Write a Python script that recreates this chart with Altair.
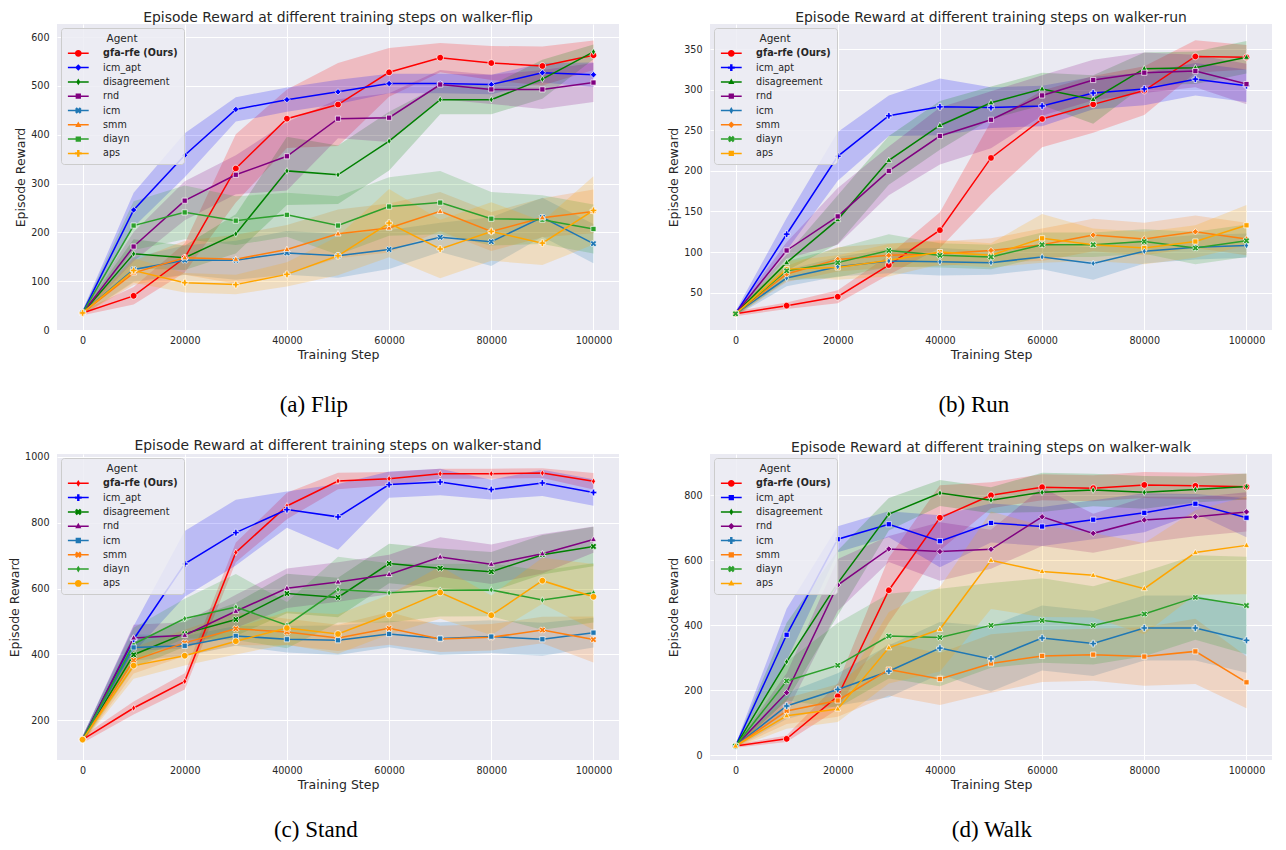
import math
import altair as alt
import pandas as pd

STEPS = [0, 10000, 20000, 30000, 40000, 50000, 60000, 70000, 80000, 90000, 100000]
AGENTS = ["gfa-rfe (Ours)", "icm_apt", "disagreement", "rnd", "icm", "smm", "diayn", "aps"]
COLORS = ["#ff0000", "#0000ff", "#008000", "#800080", "#1f77b4", "#ff7f0e", "#2ca02c", "#ffa500"]
X_TICKS = [0, 20000, 40000, 60000, 80000, 100000]

# ---------------- walker-flip ----------------
FLIP_MEAN = {
    "gfa-rfe (Ours)": [35, 70, 148, 331, 433, 462, 528, 558, 547, 541, 563],
    "icm_apt":        [35, 246, 358, 452, 472, 488, 505, 505, 503, 527, 523],
    "disagreement":   [35, 156, 148, 197, 326, 318, 387, 472, 472, 514, 570],
    "rnd":            [35, 171, 265, 318, 356, 433, 435, 503, 493, 493, 507],
    "icm":            [35, 124, 143, 143, 158, 152, 165, 190, 181, 231, 177],
    "smm":            [35, 117, 148, 145, 165, 197, 209, 243, 202, 230, 243],
    "diayn":          [35, 214, 241, 224, 236, 214, 253, 261, 228, 226, 207],
    "aps":            [35, 122, 97, 93, 114, 152, 219, 166, 202, 178, 245],
}
FLIP_HW = {
    "gfa-rfe (Ours)": [5, 18, 30, 70, 60, 85, 50, 30, 35, 40, 30],
    "icm_apt":        [5, 35, 45, 25, 25, 25, 20, 20, 20, 20, 25],
    "disagreement":   [5, 30, 25, 40, 70, 60, 60, 30, 30, 40, 15],
    "rnd":            [5, 30, 40, 40, 70, 40, 50, 30, 30, 40, 40],
    "icm":            [5, 25, 30, 40, 45, 45, 40, 30, 50, 40, 40],
    "smm":            [5, 25, 35, 50, 50, 50, 50, 40, 40, 40, 45],
    "diayn":          [5, 50, 55, 50, 45, 60, 60, 65, 55, 50, 50],
    "aps":            [5, 25, 20, 20, 25, 40, 70, 60, 60, 45, 70],
}
FLIP_MARKERS = {"gfa-rfe (Ours)": "circle", "icm_apt": "diamond", "disagreement": "thin_diamond",
                "rnd": "square", "icm": "x", "smm": "triangle", "diayn": "square", "aps": "plus"}

# ---------------- walker-run ----------------
RUN_MEAN = {
    "gfa-rfe (Ours)": [24, 34, 45, 84, 127, 216, 264, 282, 299, 341, 340],
    "icm_apt":        [24, 122, 218, 268, 279, 278, 280, 296, 301, 313, 305],
    "disagreement":   [24, 87, 140, 213, 256, 284, 301, 288, 326, 327, 340],
    "rnd":            [24, 102, 144, 200, 243, 263, 293, 312, 321, 323, 307],
    "icm":            [24, 68, 82, 89, 88, 87, 94, 86, 101, 106, 108],
    "smm":            [24, 73, 91, 96, 98, 102, 109, 121, 116, 125, 116],
    "diayn":          [24, 77, 87, 102, 96, 94, 109, 109, 113, 105, 114],
    "aps":            [24, 79, 81, 90, 100, 96, 117, 109, 105, 113, 133],
}
RUN_HW = {
    "gfa-rfe (Ours)": [3, 4, 8, 12, 22, 45, 35, 35, 30, 20, 15],
    "icm_apt":        [3, 20, 30, 25, 35, 25, 25, 20, 20, 20, 20],
    "disagreement":   [3, 10, 30, 30, 30, 20, 20, 30, 20, 20, 20],
    "rnd":            [3, 10, 35, 30, 35, 35, 25, 25, 25, 20, 25],
    "icm":            [3, 10, 12, 15, 17, 15, 15, 20, 15, 15, 15],
    "smm":            [3, 10, 15, 15, 15, 15, 20, 20, 20, 20, 20],
    "diayn":          [3, 12, 18, 20, 15, 15, 15, 15, 15, 20, 20],
    "aps":            [3, 10, 15, 20, 15, 15, 30, 20, 20, 20, 25],
}
RUN_MARKERS = {"gfa-rfe (Ours)": "circle", "icm_apt": "plus", "disagreement": "triangle",
               "rnd": "square", "icm": "thin_diamond", "smm": "diamond", "diayn": "x", "aps": "square"}

# ---------------- walker-stand ----------------
STAND_MEAN = {
    "gfa-rfe (Ours)": [141, 237, 318, 710, 851, 927, 934, 949, 949, 951, 926],
    "icm_apt":        [141, 446, 675, 770, 840, 818, 916, 924, 901, 921, 892],
    "disagreement":   [141, 399, 463, 506, 585, 573, 676, 662, 651, 703, 728],
    "rnd":            [141, 450, 458, 531, 601, 620, 643, 696, 674, 706, 749],
    "icm":            [141, 421, 426, 456, 446, 443, 462, 448, 454, 446, 466],
    "smm":            [141, 382, 435, 478, 468, 450, 479, 447, 452, 474, 445],
    "diayn":          [141, 431, 509, 544, 489, 597, 587, 595, 596, 565, 587],
    "aps":            [141, 366, 396, 440, 480, 462, 521, 588, 519, 624, 575],
}
STAND_HW = {
    "gfa-rfe (Ours)": [10, 20, 25, 30, 40, 25, 20, 15, 15, 15, 25],
    "icm_apt":        [10, 40, 100, 100, 55, 100, 40, 40, 30, 40, 40],
    "disagreement":   [10, 40, 40, 50, 60, 60, 60, 60, 60, 60, 60],
    "rnd":            [10, 40, 40, 50, 60, 60, 60, 60, 60, 60, 40],
    "icm":            [10, 40, 30, 30, 40, 45, 40, 50, 50, 50, 45],
    "smm":            [10, 40, 40, 50, 40, 40, 50, 40, 40, 40, 70],
    "diayn":          [10, 50, 60, 100, 70, 100, 90, 80, 80, 90, 90],
    "aps":            [10, 40, 30, 40, 50, 60, 60, 80, 60, 70, 100],
}
STAND_MARKERS = {"gfa-rfe (Ours)": "thin_diamond", "icm_apt": "plus", "disagreement": "x",
                 "rnd": "triangle", "icm": "square", "smm": "x", "diayn": "thin_diamond", "aps": "circle"}

# ---------------- walker-walk ----------------
WALK_MEAN = {
    "gfa-rfe (Ours)": [29, 51, 182, 508, 731, 800, 825, 822, 832, 829, 826],
    "icm_apt":        [29, 371, 665, 711, 659, 715, 704, 725, 746, 774, 731],
    "disagreement":   [29, 288, 530, 742, 807, 785, 809, 816, 809, 818, 827],
    "rnd":            [29, 193, 524, 635, 627, 634, 734, 683, 724, 734, 749],
    "icm":            [29, 152, 203, 259, 330, 297, 361, 344, 392, 392, 354],
    "smm":            [29, 137, 169, 264, 235, 283, 306, 310, 304, 320, 225],
    "diayn":          [29, 229, 277, 367, 363, 400, 415, 400, 435, 486, 461],
    "aps":            [29, 122, 143, 331, 388, 600, 566, 554, 513, 624, 646],
}
WALK_HW = {
    "gfa-rfe (Ours)": [5, 10, 40, 100, 100, 40, 40, 40, 40, 40, 40],
    "icm_apt":        [5, 80, 40, 40, 80, 60, 60, 60, 60, 30, 60],
    "disagreement":   [5, 120, 100, 50, 40, 40, 60, 50, 50, 40, 40],
    "rnd":            [5, 60, 80, 40, 90, 60, 90, 60, 70, 60, 60],
    "icm":            [5, 40, 50, 80, 80, 100, 100, 100, 100, 100, 100],
    "smm":            [5, 40, 50, 80, 80, 90, 80, 80, 90, 100, 80],
    "diayn":          [5, 60, 130, 130, 150, 130, 130, 120, 130, 130, 150],
    "aps":            [5, 40, 40, 110, 130, 150, 140, 130, 140, 130, 150],
}
WALK_MARKERS = {"gfa-rfe (Ours)": "circle", "icm_apt": "square", "disagreement": "thin_diamond",
                "rnd": "diamond", "icm": "plus", "smm": "square", "diayn": "x", "aps": "triangle"}


# ---------- marker glyphs (shape design only) ----------
def poly(pts):
    return "M" + "L".join(f"{x:.3f},{y:.3f}" for x, y in pts) + "Z"


def rot(pts, ang):
    c, s = math.cos(ang), math.sin(ang)
    return [(x * c - y * s, x * s + y * c) for x, y in pts]


def marker_path(kind, r):
    if kind == "circle":
        return f"M{-r:.3f},0A{r:.3f},{r:.3f} 0 1,1 {r:.3f},0A{r:.3f},{r:.3f} 0 1,1 {-r:.3f},0Z"
    if kind == "square":
        s = r * 0.78
        return poly([(-s, -s), (s, -s), (s, s), (-s, s)])
    if kind == "diamond":
        s = r * 0.95
        return poly([(0, -s), (s, 0), (0, s), (-s, 0)])
    if kind == "thin_diamond":
        return poly([(0, -r), (0.6 * r, 0), (0, r), (-0.6 * r, 0)])
    if kind == "triangle":
        return poly([(0, -r), (0.9 * r, 0.62 * r), (-0.9 * r, 0.62 * r)])
    w = r * 0.36
    plus = [(-w, -r), (w, -r), (w, -w), (r, -w), (r, w), (w, w), (w, r), (-w, r), (-w, w), (-r, w), (-r, -w), (-w, -w)]
    if kind == "plus":
        return poly(plus)
    return poly(rot(plus, math.pi / 4))


def legend_path(kind):
    # legend glyph: short line with the series marker on it (unit = 4px at symbolSize 64)
    t = 0.19
    half = 2.6
    line = poly([(-half, -t), (half, -t), (half, t), (-half, t)])
    return line + marker_path(kind, 0.85)


def panel_df(means, hws):
    rows = []
    for i, a in enumerate(AGENTS):
        for s, m, h in zip(STEPS, means[a], hws[a]):
            rows.append({"agent": a, "order": i, "step": s, "mean": m, "lo": m - h, "hi": m + h})
    return pd.DataFrame(rows)


def make_legend():
    return alt.Legend(
        title="Agent", orient="top-left", offset=4,
        titleAnchor="middle", titleFontWeight="normal", titleFontSize=10.5, titleColor="#262626",
        titlePadding=4,
        labelFontSize=9.6, labelColor="#262626", labelOffset=20,
        labelFontWeight={"expr": "datum.value === 'gfa-rfe (Ours)' ? 'bold' : 'normal'"},
        symbolSize=64, symbolOffset=6.5, symbolStrokeWidth=0, symbolOpacity=1, rowPadding=3.3,
        padding=6, fillColor="rgba(236,236,243,0.85)", strokeColor="#cccccc", cornerRadius=3,
    )


def make_panel(task, means, hws, markers, ydom, yvals, caption, cap_offset, cap_dx):
    df = panel_df(means, hws)
    xs = alt.Scale(domain=[-5000, 105000], nice=False, zero=False)
    ys = alt.Scale(domain=ydom, nice=False, zero=False)
    xax = alt.Axis(values=X_TICKS, format="d", title="Training Step")
    yax = alt.Axis(values=yvals, format="d", title="Episode Reward")
    legend = make_legend()
    color = alt.Color("agent:N", scale=alt.Scale(domain=AGENTS, range=COLORS), legend=legend)
    X = alt.X("step:Q", scale=xs, axis=xax)
    Y = alt.Y("mean:Q", scale=ys, axis=yax)
    base = alt.Chart(df)
    band = base.mark_area(opacity=0.2, clip=True).encode(
        x=X, y=alt.Y("lo:Q", scale=ys, axis=yax, stack=None), y2="hi:Q", color=color,
    )
    line = base.mark_line(strokeWidth=1.5, clip=True).encode(x=X, y=Y, color=color)
    layers = [band, line]
    kinds = []
    for a in AGENTS:
        if markers[a] not in kinds:
            kinds.append(markers[a])
    for k in kinds:
        members = [a for a in AGENTS if markers[a] == k]
        layers.append(
            base.transform_filter(alt.FieldOneOfPredicate(field="agent", oneOf=members))
            .mark_point(filled=True, opacity=1, stroke="white", strokeWidth=0.7, size=44, clip=True,
                        shape=marker_path(k, 1.0))
            .encode(x=X, y=Y, color=color)
        )
    # legend glyph carrier (draws nothing: empty after filter)
    layers.append(
        base.transform_filter("datum.step < 0")
        .mark_point(filled=True, opacity=1, strokeWidth=0, size=64)
        .encode(x=X, y=Y, color=color,
                shape=alt.Shape("agent:N", scale=alt.Scale(domain=AGENTS, range=[legend_path(markers[a]) for a in AGENTS]),
                                legend=legend))
    )
    layer = alt.layer(*layers).properties(
        width=562, height=306,
        title=alt.Title(f"Episode Reward at different training steps on {task}", fontSize=13.9,
                        fontWeight="normal", color="#262626", anchor="middle", frame="group", offset=-1),
    )
    return alt.vconcat(layer, title=alt.Title(caption, orient="bottom", font="Liberation Serif", fontSize=23,
                                               fontWeight="normal", color="black", anchor="middle",
                                               offset=cap_offset, dx=cap_dx)
                       ).resolve_scale(color="independent", shape="independent").resolve_legend(
        color="independent", shape="independent")


pa = make_panel("walker-flip", FLIP_MEAN, FLIP_HW, FLIP_MARKERS, [0, 627], [0, 100, 200, 300, 400, 500, 600],
                "(a) Flip", 33, -3)
pb = make_panel("walker-run", RUN_MEAN, RUN_HW, RUN_MARKERS, [4, 381], [50, 100, 150, 200, 250, 300, 350],
                "(b) Run", 33, 4)
pc = make_panel("walker-stand", STAND_MEAN, STAND_HW, STAND_MARKERS, [79, 1009], [200, 400, 600, 800, 1000],
                "(c) Stand", 28, 2)
pd_ = make_panel("walker-walk", WALK_MEAN, WALK_HW, WALK_MARKERS, [-14, 927], [0, 200, 400, 600, 800],
                 "(d) Walk", 28, 22)

row1 = alt.hconcat(pa, pb, spacing=48).resolve_scale(color="independent", shape="independent").resolve_legend(
    color="independent", shape="independent")
row2 = alt.hconcat(pc, pd_, spacing=48).resolve_scale(color="independent", shape="independent").resolve_legend(
    color="independent", shape="independent")

chart = alt.vconcat(row1, row2, spacing=21).resolve_scale(color="independent", shape="independent").resolve_legend(
    color="independent", shape="independent"
).configure(
    font="DejaVu Sans", background="white", padding={"left": 0, "top": 3, "right": 0, "bottom": 0}
).configure_view(
    fill="#eaeaf2", stroke=None
).configure_axis(
    grid=True, gridColor="white", gridWidth=1, gridOpacity=1, domain=False, ticks=False,
    labelFontSize=9.6, labelColor="#262626",
    titleFontSize=12.5, titleColor="#262626", titleFontWeight="normal",
).configure_axisX(
    labelPadding=5, titlePadding=4,
).configure_axisY(
    labelPadding=8, titlePadding=3,
)

chart.save("out.html", embed_options={"renderer": "svg", "actions": False})
